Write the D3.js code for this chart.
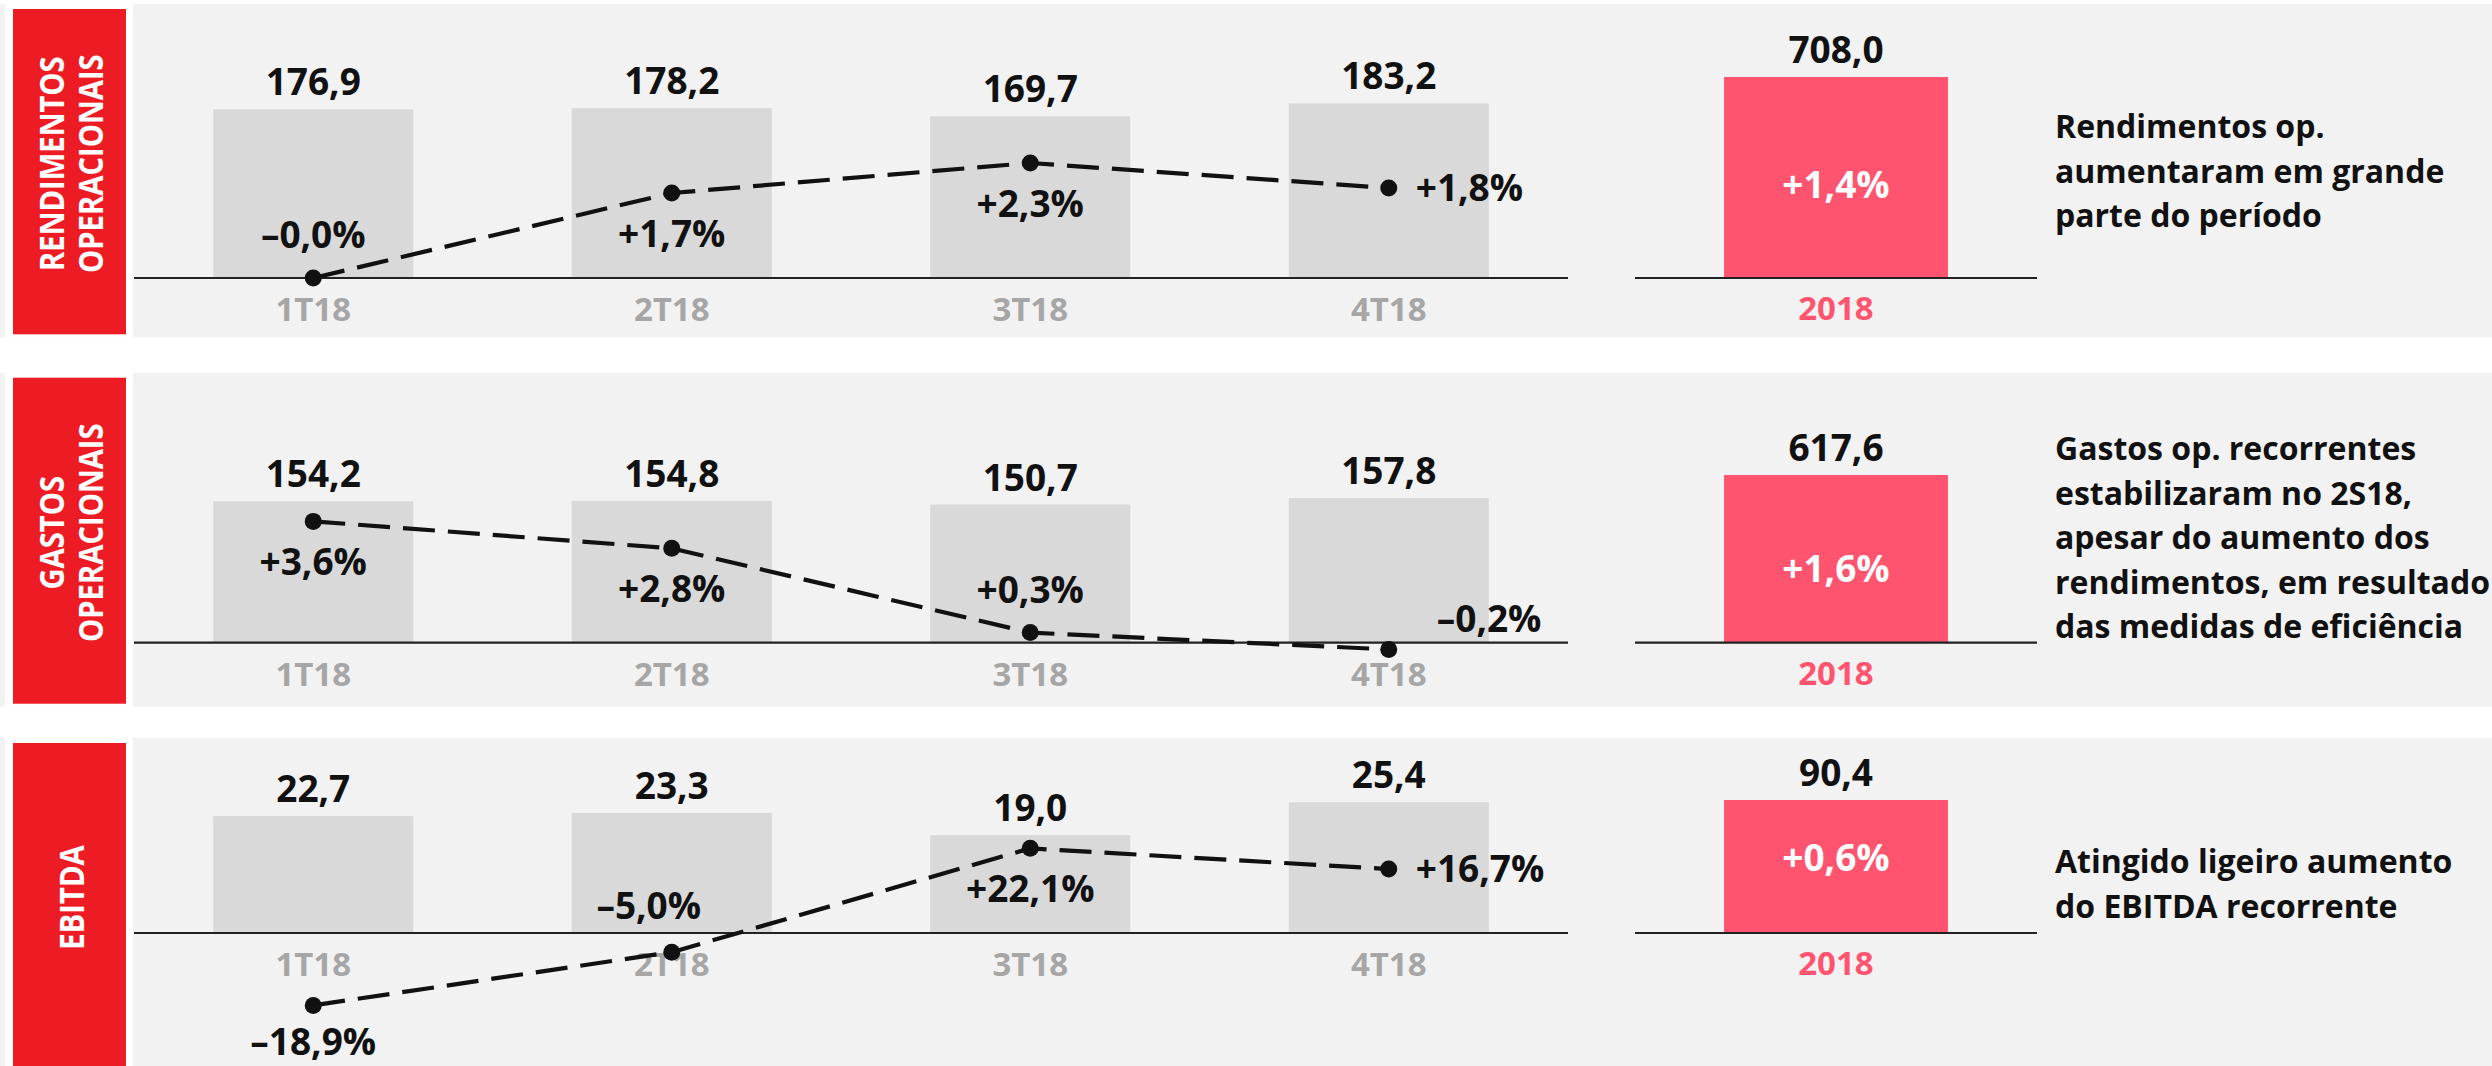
<!DOCTYPE html>
<html><head><meta charset="utf-8">
<script src="https://cdn.jsdelivr.net/npm/d3@7"></script>
<style>
body{margin:0;background:#fff}
text{font-family:"Open Sans",sans-serif;font-weight:700}
</style>
</head><body>
<svg id="c" width="2492" height="1066"></svg>
<script>
// ---------- DATA ----------
const categories = ["1T18", "2T18", "3T18", "4T18"];
const totalCategory = ["2018"];
const panelTitles = [["RENDIMENTOS", "OPERACIONAIS"], ["GASTOS", "OPERACIONAIS"], ["EBITDA"]];
const rendimentosValues = [176.9, 178.2, 169.7, 183.2];
const rendimentosChange = [-0.0, 1.7, 2.3, 1.8];
const gastosValues = [154.2, 154.8, 150.7, 157.8];
const gastosChange = [3.6, 2.8, 0.3, -0.2];
const ebitdaValues = [22.7, 23.3, 19.0, 25.4];
const ebitdaChange = [-18.9, -5.0, 22.1, 16.7];
const totalValues = [708.0, 617.6, 90.4];
const totalChange = [1.4, 1.6, 0.6];
const notes = [
  ["Rendimentos op.", "aumentaram em grande", "parte do período"],
  ["Gastos op. recorrentes", "estabilizaram no 2S18,", "apesar do aumento dos", "rendimentos, em resultado", "das medidas de eficiência"],
  ["Atingido ligeiro aumento", "do EBITDA recorrente"]
];
const labelPlacement = [
  ["above", "below", "below", "right"],
  ["below", "below", "above", "aboveRight"],
  ["below", "aboveLeft", "below", "right"]
];

// ---------- LAYOUT ----------
const W = 2492, H = 1066;
const panels = [
  {values: rendimentosValues, change: rendimentosChange, top: 4, bottom: 337.3, base: 278,
   barDom: 200, barH: 190.6, pctDom: 4, pctH: 200, totDom: 800, totH: 227.1, innerDy: -80, notesY: 138},
  {values: gastosValues, change: gastosChange, top: 372.7, bottom: 706.7, base: 642.7,
   barDom: 200, barH: 183.4, pctDom: 4, pctH: 134.8, totDom: 800, totH: 217.2, innerDy: -61, notesY: 460},
  {values: ebitdaValues, change: ebitdaChange, top: 738, bottom: 1075, base: 933,
   barDom: 30, barH: 154.5, pctDom: 20, pctH: 76.6, totDom: 100, totH: 147.1, innerDy: -62, notesY: 873}
];

const fmt = v => d3.format(".1f")(Math.abs(v)).replace(".", ",");
const signed = v => ((v < 0 || Object.is(v, -0)) ? "\u2013" : "+") + fmt(v) + "%";

const svg = d3.select("#c");

const x = d3.scaleBand().domain(categories).range([134, 1568]).paddingInner(0.442).paddingOuter(0.221);
const xt = d3.scaleBand().domain(totalCategory).range([1635, 2037]).paddingInner(0.443).paddingOuter(0.221);

panels.forEach((p, pi) => {
  const g = svg.append("g");
  // backgrounds
  g.append("rect").attr("x", 0).attr("y", p.top).attr("width", W).attr("height", p.bottom - p.top).attr("fill", "#f2f2f2");
  g.append("rect").attr("x", 5).attr("y", p.top - 4).attr("width", 128).attr("height", p.bottom - p.top + 4).attr("fill", "#ffffff");
  g.append("rect").attr("x", 13).attr("y", p.top + 5).attr("width", 113).attr("height", p.bottom - p.top - 8).attr("fill", "#ed1c24");

  // rotated title
  const titles = panelTitles[pi];
  const cy = (p.top + Math.min(p.bottom, 1071)) / 2 - 7;
  const tg = g.append("g").attr("transform", `translate(71,${cy}) rotate(-90)`);
  titles.forEach((t, i) => {
    const by = (i - (titles.length - 1) / 2) * 39 + 12.5;
    tg.append("text").attr("transform", `translate(0,${by}) scale(0.86,1)`)
      .attr("text-anchor", "middle").attr("fill", "#fff").attr("font-size", 34).text(t);
  });

  // scales
  const y = d3.scaleLinear().domain([0, p.barDom]).range([p.base, p.base - p.barH]);
  const yp = d3.scaleLinear().domain([0, p.pctDom]).range([p.base, p.base - p.pctH]);
  const yt = d3.scaleLinear().domain([0, p.totDom]).range([p.base, p.base - p.totH]);

  // quarterly bars
  g.selectAll(".bar").data(categories).join("rect")
    .attr("x", c => x(c)).attr("width", x.bandwidth())
    .attr("y", (c, i) => y(p.values[i])).attr("height", (c, i) => y(0) - y(p.values[i]))
    .attr("fill", "#d9d9d9");
  g.selectAll(".val").data(categories).join("text")
    .attr("x", c => x(c) + x.bandwidth() / 2).attr("y", (c, i) => y(p.values[i]) - 14)
    .attr("text-anchor", "middle").attr("font-size", 37).attr("fill", "#111")
    .text((c, i) => fmt(p.values[i]));
  // axis
  g.append("line").attr("x1", 134).attr("x2", 1568).attr("y1", y(0)).attr("y2", y(0))
    .attr("stroke", "#222").attr("stroke-width", 2.2);
  g.selectAll(".cat").data(categories).join("text")
    .attr("x", c => x(c) + x.bandwidth() / 2).attr("y", y(0) + 43)
    .attr("text-anchor", "middle").attr("font-size", 33).attr("fill", "#a6a6a6").text(c => c);

  // change line
  const pts = categories.map((c, i) => [x(c) + x.bandwidth() / 2, yp(p.change[i])]);
  g.append("path").attr("d", d3.line()(pts)).attr("fill", "none")
    .attr("stroke", "#111").attr("stroke-width", 4.2).attr("stroke-dasharray", "32,13");
  g.selectAll(".dot").data(pts).join("circle")
    .attr("cx", d => d[0]).attr("cy", d => d[1]).attr("r", 8.5).attr("fill", "#111");
  const place = labelPlacement[pi];
  g.selectAll(".pct").data(pts).join("text")
    .attr("font-size", 37).attr("fill", "#111")
    .each(function (d, i) {
      const s = d3.select(this), pl = place[i];
      let tx = d[0], ty = d[1], anchor = "middle";
      if (pl === "above") { ty -= 30; }
      else if (pl === "below") { ty += 54; }
      else if (pl === "right") { tx += 27; ty += 13; anchor = "start"; }
      else if (pl === "aboveRight") { tx += 48; ty -= 17; anchor = "start"; }
      else if (pl === "aboveLeft") { tx -= 23; ty -= 33; }
      ty = Math.min(ty, H - 11);
      s.attr("x", tx).attr("y", ty).attr("text-anchor", anchor);
    })
    .text((d, i) => signed(p.change[i]));

  // total bar
  const tc = totalCategory[0];
  const tcx = xt(tc) + xt.bandwidth() / 2;
  g.append("rect").attr("x", xt(tc)).attr("width", xt.bandwidth())
    .attr("y", yt(totalValues[pi])).attr("height", yt(0) - yt(totalValues[pi])).attr("fill", "#ff5470");
  g.append("line").attr("x1", 1635).attr("x2", 2037).attr("y1", yt(0)).attr("y2", yt(0))
    .attr("stroke", "#222").attr("stroke-width", 2.2);
  g.append("text").attr("x", tcx).attr("y", yt(totalValues[pi]) - 14).attr("text-anchor", "middle")
    .attr("font-size", 37).attr("fill", "#111").text(fmt(totalValues[pi]));
  g.append("text").attr("x", tcx).attr("y", yt(0) + p.innerDy).attr("text-anchor", "middle")
    .attr("font-size", 37).attr("fill", "#fff").text(signed(totalChange[pi]));
  g.append("text").attr("x", tcx).attr("y", yt(0) + 42).attr("text-anchor", "middle")
    .attr("font-size", 33).attr("fill", "#ff5470").text(tc);

  // notes
  g.selectAll(".note").data(notes[pi]).join("text")
    .attr("x", 2055).attr("y", (d, i) => p.notesY + i * 44.5)
    .attr("font-size", 32).attr("fill", "#111").text(d => d);
});
</script>
</body></html>
